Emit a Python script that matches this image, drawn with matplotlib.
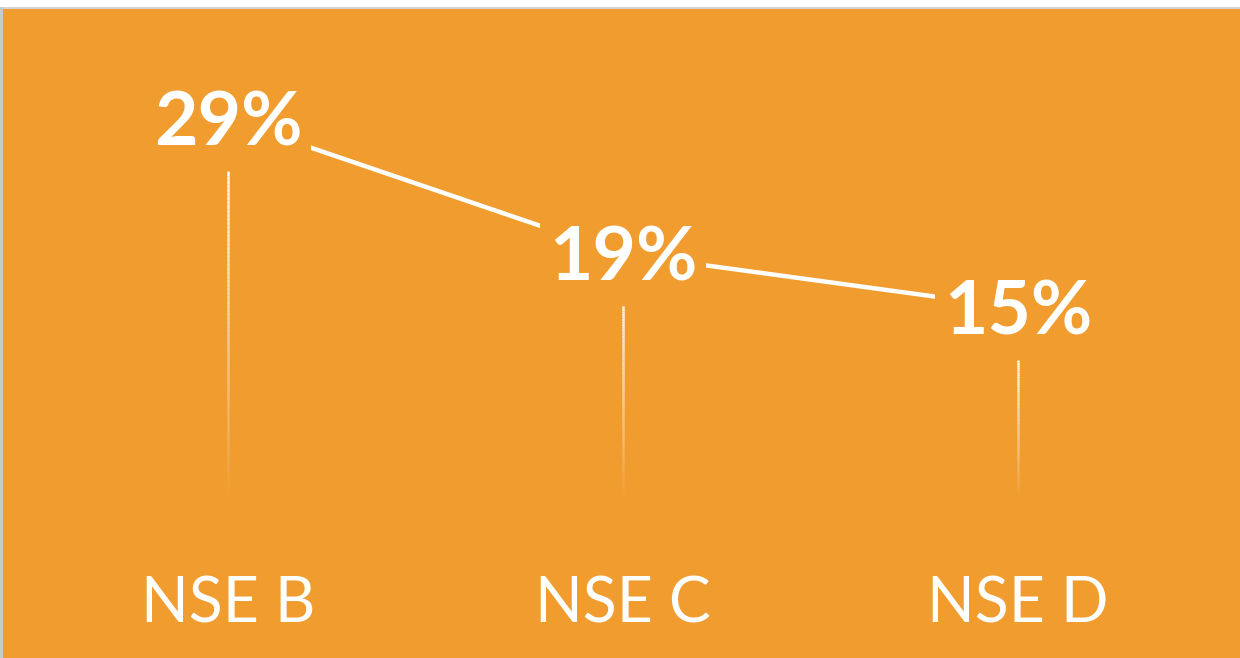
import numpy as np
import matplotlib
matplotlib.use("Agg")
import matplotlib.pyplot as plt
from matplotlib.collections import LineCollection
from matplotlib.patches import Rectangle

categories = ["NSE B", "NSE C", "NSE D"]
values = [29, 19, 15]
value_labels = ["29%", "19%", "15%"]

BG = "#F09C2F"
W, H = 1240, 658
fig = plt.figure(figsize=(W / 100, H / 100), dpi=100, facecolor="white")

# border strips (white top, gray hairlines)
fig.patches.append(Rectangle((0, 649 / H), 1, 2.5 / H, transform=fig.transFigure,
                             facecolor="#D3D3D3", edgecolor="none", zorder=1))
fig.patches.append(Rectangle((0, 0), 2.5 / W, 651 / H, transform=fig.transFigure,
                             facecolor="#C9C9C9", edgecolor="none", zorder=1))

ax = fig.add_axes([2.5 / W, 0, 1 - 2.5 / W, 649 / H])
ax.set_facecolor(BG)
for s in ax.spines.values():
    s.set_visible(False)
ax.set_xticks([])
ax.set_yticks([])

x = np.arange(len(categories))
ax.set_xlim(-0.571, 2.562)
ax.set_ylim(-11.0, 37.2)

# fading drop lines
for xi, v in zip(x, values):
    top = v - 3.86
    bot = 0.6
    n = 80
    ys = np.linspace(top, bot, n + 1)
    segs = [[(xi, ys[i]), (xi, ys[i + 1])] for i in range(n)]
    alphas = np.linspace(0.95, 0.0, n)
    cols = [(1, 1, 1, a) for a in alphas]
    lc = LineCollection(segs, colors=cols, linewidths=1.8, zorder=2)
    ax.add_collection(lc)

# main line
ax.plot(x, values, color="white", lw=3.2, solid_capstyle="butt", zorder=3)

# value labels with background boxes to cut the line
for xi, v, lab in zip(x, values, value_labels):
    ax.text(xi, v - 0.35, lab, ha="center", va="center", fontsize=54, fontweight="bold",
            family="Lato", color="white", zorder=4,
            bbox=dict(boxstyle="square,pad=0.12", facecolor=BG, edgecolor="none"))

# category labels
for xi, c in zip(x, categories):
    ax.text(xi, -7.0, c, ha="center", va="center", fontsize=45,
            family="Lato", color="white", zorder=4)

fig.savefig("out.png", dpi=100, facecolor=fig.get_facecolor())
